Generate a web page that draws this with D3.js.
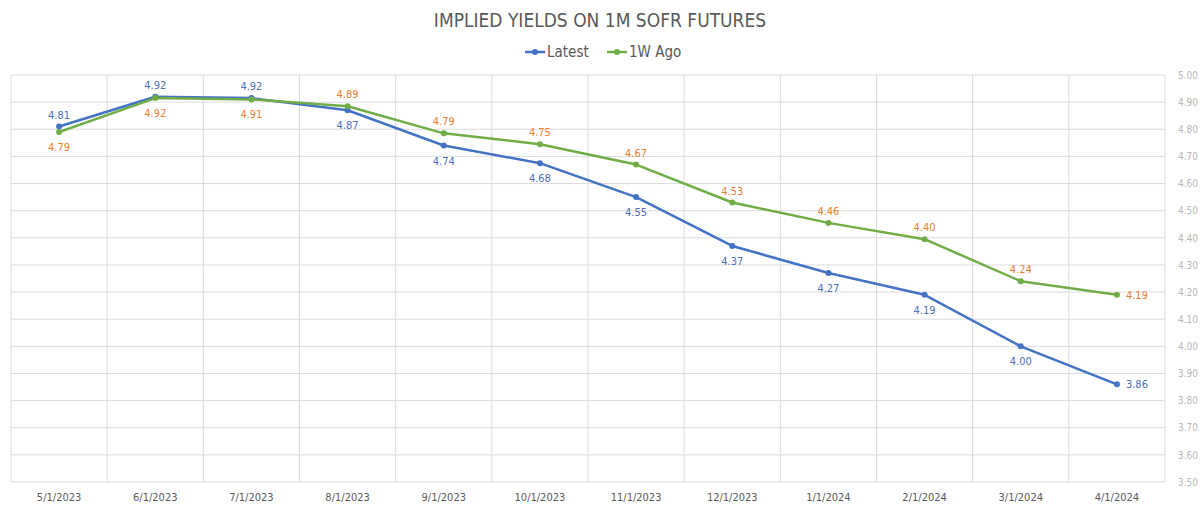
<!DOCTYPE html>
<html>
<head>
<meta charset="utf-8">
<script src="https://cdn.jsdelivr.net/npm/d3@7"></script>
<style>
  body { margin: 0; background: #fff; }
  svg text { font-family: "Liberation Sans Narrow", "DejaVu Sans Condensed", Roboto, sans-serif; }
</style>
</head>
<body>
<svg width="1200" height="508"></svg>
<script>
var categories = ["5/1/2023", "6/1/2023", "7/1/2023", "8/1/2023", "9/1/2023", "10/1/2023",
                  "11/1/2023", "12/1/2023", "1/1/2024", "2/1/2024", "3/1/2024", "4/1/2024"];
var latest = [4.81, 4.92, 4.915, 4.87, 4.74, 4.675, 4.55, 4.37, 4.27, 4.19, 4.00, 3.86];
var weekAgo = [4.79, 4.915, 4.91, 4.885, 4.785, 4.745, 4.67, 4.53, 4.455, 4.395, 4.24, 4.19];
var latestLabels = ["4.81", "4.92", "4.92", "4.87", "4.74", "4.68", "4.55", "4.37", "4.27", "4.19", "4.00", "3.86"];
var weekAgoLabels = ["4.79", "4.92", "4.91", "4.89", "4.79", "4.75", "4.67", "4.53", "4.46", "4.40", "4.24", "4.19"];
var yTicks = [3.5, 3.6, 3.7, 3.8, 3.9, 4.0, 4.1, 4.2, 4.3, 4.4, 4.5, 4.6, 4.7, 4.8, 4.9, 5.0];

var svg = d3.select("svg");
var plotLeft = 11, plotRight = 1165, plotTop = 75, plotBottom = 482;

var x = d3.scaleBand().domain(categories).range([plotLeft, plotRight]);
var y = d3.scaleLinear().domain([3.5, 5.0]).range([plotBottom, plotTop]);

// grid
svg.append("g").selectAll("line")
  .data(yTicks).enter().append("line")
  .attr("x1", plotLeft).attr("x2", plotRight)
  .attr("y1", function(d) { return y(d); }).attr("y2", function(d) { return y(d); })
  .attr("stroke", "#dcdcdc").attr("stroke-width", 1);

var vlines = categories.map(function(c) { return x(c); }).concat([plotRight]);
svg.append("g").selectAll("line")
  .data(vlines).enter().append("line")
  .attr("x1", function(d) { return d; }).attr("x2", function(d) { return d; })
  .attr("y1", plotTop).attr("y2", plotBottom)
  .attr("stroke", "#dcdcdc").attr("stroke-width", 1);

// y axis on the right
var yAxis = svg.append("g")
  .attr("transform", "translate(" + (plotRight + 10) + ",0)")
  .call(d3.axisRight(y).tickValues(yTicks).tickFormat(d3.format(".2f")).tickSize(0));
yAxis.select(".domain").remove();
yAxis.selectAll("text").attr("fill", "#b8b8b8").style("font-size", "10px");

// x axis
var xAxis = svg.append("g")
  .attr("transform", "translate(0," + (plotBottom + 8) + ")")
  .call(d3.axisBottom(x).tickSize(0));
xAxis.select(".domain").remove();
xAxis.selectAll("text").attr("fill", "#595959").style("font-size", "11px");

var cx = function(d, i) { return x(categories[i]) + x.bandwidth() / 2; };

var series = [
  { name: "Latest", values: latest, labels: latestLabels, color: "#4472C4", labelColor: "#4a6fc0" },
  { name: "1W Ago", values: weekAgo, labels: weekAgoLabels, color: "#70AD47", labelColor: "#ed7d31" }
];

var line = d3.line()
  .x(function(d, i) { return cx(d, i); })
  .y(function(d) { return y(d); });

series.forEach(function(s) {
  svg.append("path")
    .datum(s.values)
    .attr("fill", "none")
    .attr("stroke", s.color)
    .attr("stroke-width", 2.5)
    .attr("stroke-linejoin", "round")
    .attr("d", line);
});

series.forEach(function(s) {
  svg.append("g").selectAll("circle")
    .data(s.values).enter().append("circle")
    .attr("cx", cx)
    .attr("cy", function(d) { return y(d); })
    .attr("r", 3)
    .attr("fill", s.color);
});

// data labels: higher series above, lower series below, last point to the right
series.forEach(function(s, k) {
  var other = series[1 - k].values;
  svg.append("g").selectAll("text")
    .data(s.values).enter().append("text")
    .attr("x", function(d, i) {
      return i === categories.length - 1 ? cx(d, i) + 9 : cx(d, i);
    })
    .attr("y", function(d, i) {
      if (i === categories.length - 1) return y(d) + 4;
      var above = d >= other[i];
      return above ? y(d) - 8 : y(d) + 19;
    })
    .attr("text-anchor", function(d, i) { return i === categories.length - 1 ? "start" : "middle"; })
    .attr("fill", s.labelColor)
    .style("font-size", "11px")
    .text(function(d, i) { return s.labels[i]; });
});

// title
svg.append("text")
  .attr("x", 600).attr("y", 27)
  .attr("text-anchor", "middle")
  .attr("fill", "#595959")
  .style("font-size", "19px")
  .text("IMPLIED YIELDS ON 1M SOFR FUTURES");

// legend
var legend = svg.append("g");
var legendItems = [
  { name: "Latest", color: "#4472C4", x: 525 },
  { name: "1W Ago", color: "#70AD47", x: 607 }
];
legendItems.forEach(function(l) {
  legend.append("line")
    .attr("x1", l.x).attr("x2", l.x + 20)
    .attr("y1", 52).attr("y2", 52)
    .attr("stroke", l.color).attr("stroke-width", 2.5);
  legend.append("circle")
    .attr("cx", l.x + 10).attr("cy", 52).attr("r", 3)
    .attr("fill", l.color);
  legend.append("text")
    .attr("x", l.x + 22).attr("y", 57)
    .attr("fill", "#595959")
    .style("font-size", "15px")
    .text(l.name);
});
</script>
</body>
</html>
